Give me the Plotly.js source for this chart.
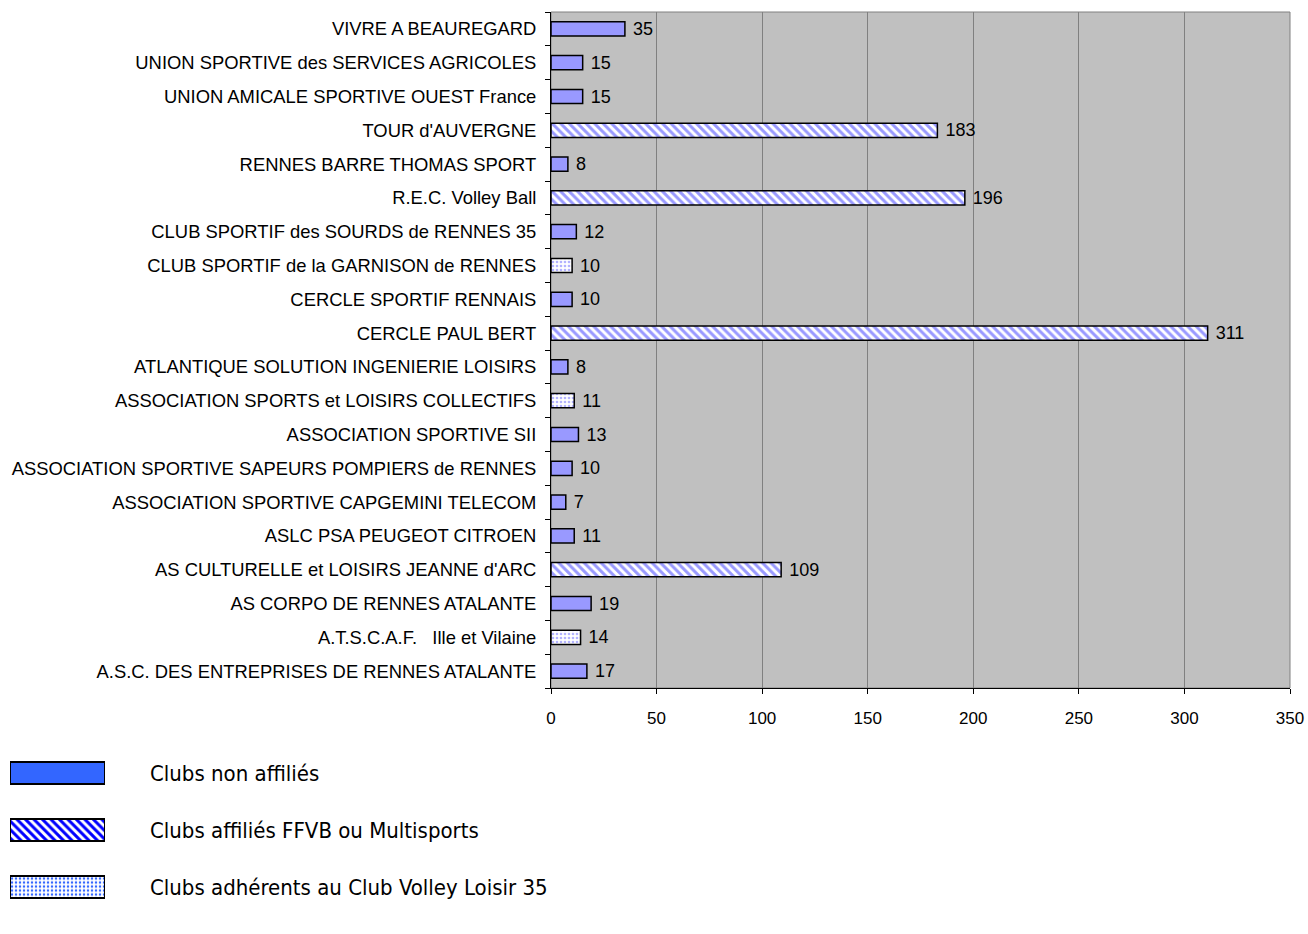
<!DOCTYPE html>
<html>
<head>
<meta charset="utf-8">
<script src="https://cdn.plot.ly/plotly-3.0.1.min.js"></script>
<style>html,body{margin:0;padding:0;background:#fff;}#chart{width:1308px;height:934px;}</style>
</head>
<body>
<div id="chart"></div>
<script>
// Categories (bottom to top) and values
const clubs = [
  "A.S.C. DES ENTREPRISES DE RENNES ATALANTE",
  "A.T.S.C.A.F.\u00a0\u00a0\u00a0Ille et Vilaine",
  "AS CORPO DE RENNES ATALANTE",
  "AS CULTURELLE et LOISIRS JEANNE d'ARC",
  "ASLC PSA PEUGEOT CITROEN",
  "ASSOCIATION SPORTIVE CAPGEMINI TELECOM",
  "ASSOCIATION SPORTIVE SAPEURS POMPIERS de RENNES",
  "ASSOCIATION SPORTIVE SII",
  "ASSOCIATION SPORTS et LOISIRS COLLECTIFS",
  "ATLANTIQUE SOLUTION INGENIERIE LOISIRS",
  "CERCLE PAUL BERT",
  "CERCLE SPORTIF RENNAIS",
  "CLUB SPORTIF de la GARNISON de RENNES",
  "CLUB SPORTIF des SOURDS de RENNES 35",
  "R.E.C. Volley Ball",
  "RENNES BARRE THOMAS SPORT",
  "TOUR d'AUVERGNE",
  "UNION AMICALE SPORTIVE OUEST France",
  "UNION SPORTIVE des SERVICES AGRICOLES",
  "VIVRE A BEAUREGARD"
];
const members = [17, 14, 19, 109, 11, 7, 10, 13, 11, 8, 311, 10, 10, 12, 196, 8, 183, 15, 15, 35];
// 0 = non affilié, 1 = affilié FFVB/Multisports, 2 = adhérent CVL35
const clubType = [0, 2, 0, 1, 0, 0, 0, 0, 2, 0, 1, 0, 2, 0, 1, 0, 1, 0, 0, 0];

const typeNames = ["Clubs non affiliés", "Clubs affiliés FFVB ou Multisports", "Clubs adhérents au Club Volley Loisir 35"];
const legendOne = [1, 1, 1];

const xTicks = [0, 50, 100, 150, 200, 250, 300, 350];

const barStyles = [
  {color: "#9999ff", pattern: {shape: ""}},
  {color: "#ffffff", pattern: {shape: "\\", fgcolor: "#9999ff", bgcolor: "#ffffff", size: 6, solidity: 0.5, fillmode: "replace"}},
  {color: "#ffffff", pattern: {shape: ".", fgcolor: "#b3b3ff", bgcolor: "#ffffff", size: 4, solidity: 0.35, fillmode: "replace"}}
];
const legendStyles = [
  {color: "#3366ff", pattern: {shape: ""}},
  {color: "#ffffff", pattern: {shape: "\\", fgcolor: "#0000ff", bgcolor: "#ffffff", size: 6, solidity: 0.5, fillmode: "replace"}},
  {color: "#ffffff", pattern: {shape: ".", fgcolor: "#3366ff", bgcolor: "#ffffff", size: 4, solidity: 0.3, fillmode: "replace"}}
];

const traces = [];
for (let t = 0; t < 3; t++) {
  const ys = [], xs = [];
  for (let i = 0; i < clubs.length; i++) {
    if (clubType[i] === t) { ys.push(clubs[i]); xs.push(members[i]); }
  }
  traces.push({
    type: "bar", orientation: "h", x: xs, y: ys, width: 0.42,
    name: typeNames[t], showlegend: false,
    marker: {color: barStyles[t].color, pattern: barStyles[t].pattern, line: {color: "#000000", width: 1.5}},
    text: xs.map(v => "\u00a0" + v), textposition: "outside", cliponaxis: false, constraintext: "none",
    textfont: {family: "Liberation Sans, Arial, sans-serif", size: 18, color: "#000000"},
    hoverinfo: "x+y", xaxis: "x", yaxis: "y"
  });
}
// Legend swatches as a small separate subplot
for (let t = 0; t < 3; t++) {
  traces.push({
    type: "bar", orientation: "h", x: [legendOne[t]], y: [typeNames[t]], width: 0.39,
    showlegend: false, hoverinfo: "skip",
    marker: {color: legendStyles[t].color, pattern: legendStyles[t].pattern, line: {color: "#000000", width: 2}},
    xaxis: "x2", yaxis: "y2"
  });
}

const W = 1290, H = 934;
const annotations = typeNames.map(n => ({
  xref: "paper", yref: "y2", x: 148 / W, y: n, xanchor: "left", yanchor: "middle",
  text: n, showarrow: false,
  font: {family: "Liberation Sans Narrow, DejaVu Sans Condensed, Arial Narrow, sans-serif", size: 22, color: "#000000"}
}));

const layout = {
  width: 1308, height: 934,
  margin: {l: 0, r: 18, t: 0, b: 0},
  paper_bgcolor: "#ffffff", plot_bgcolor: "#ffffff",
  barmode: "overlay",
  font: {family: "Liberation Sans, Arial, sans-serif", size: 18, color: "#000000"},
  xaxis: {
    domain: [551 / W, 1], range: [0, 350], tickvals: xTicks, ticktext: xTicks.map(String),
    tickfont: {size: 17},
    showgrid: true, gridcolor: "#808080", gridwidth: 1,
    showline: true, linecolor: "#000000", linewidth: 1,
    ticks: "outside", ticklen: 5, tickcolor: "#000000",
    ticklabelstandoff: 10, zeroline: false, fixedrange: true
  },
  yaxis: {
    domain: [1 - 688 / H, 1 - 12 / H],
    type: "category", categoryorder: "array", categoryarray: clubs,
    range: [-0.5, clubs.length - 0.5],
    tickfont: {size: 18.4},
    showline: true, linecolor: "#000000", linewidth: 1,
    ticks: "outside", ticklen: 5, tickcolor: "#000000", tickson: "boundaries",
    showgrid: false, ticklabelstandoff: 10, fixedrange: true
  },
  xaxis2: {domain: [10 / W, 105 / W], range: [0, 1], visible: false, fixedrange: true},
  yaxis2: {
    domain: [1 - 915.5 / H, 1 - 744.5 / H], anchor: "x2",
    type: "category", categoryorder: "array", categoryarray: typeNames,
    range: [2.5, -0.5], visible: false, fixedrange: true
  },
  shapes: [{
    type: "rect", xref: "x domain", yref: "y domain", x0: 0, x1: 1, y0: 0, y1: 1,
    fillcolor: "#c0c0c0", line: {color: "#808080", width: 1}, layer: "below"
  }],
  annotations: annotations
};

Plotly.newPlot("chart", traces, layout, {displayModeBar: false});
</script>
</body>
</html>
